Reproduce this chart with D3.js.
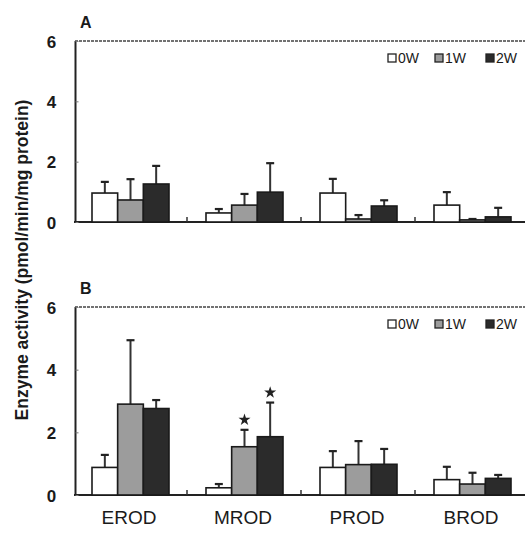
<!DOCTYPE html>
<html>
<head>
<meta charset="utf-8">
<script src="https://cdn.jsdelivr.net/npm/d3@7"></script>
<style>
  body { margin: 0; background: #fff; }
  svg { display: block; }
  text { font-family: Arial, "Liberation Sans", Helvetica, sans-serif; fill: #1a1a1a; }
</style>
</head>
<body>
<svg id="chart" width="525" height="534"></svg>
<script>
// Enzyme assays and exposure times
const categories = ["EROD", "MROD", "PROD", "BROD"];
const series = ["0W", "1W", "2W"];
const yTicks = [0, 2, 4, 6];

// Panel A: mean activity and SD, indexed [category][series]
const meanA = [
  [0.96, 0.73, 1.26],
  [0.30, 0.56, 0.99],
  [0.96, 0.10, 0.53],
  [0.56, 0.07, 0.17]
];
const sdA = [
  [0.37, 0.69, 0.60],
  [0.13, 0.37, 0.96],
  [0.47, 0.13, 0.19],
  [0.43, 0.03, 0.30]
];

// Panel B
const meanB = [
  [0.88, 2.90, 2.76],
  [0.23, 1.54, 1.86],
  [0.88, 0.97, 0.98],
  [0.49, 0.35, 0.53]
];
const sdB = [
  [0.40, 2.04, 0.27],
  [0.12, 0.54, 1.09],
  [0.52, 0.75, 0.49],
  [0.41, 0.36, 0.11]
];
// significance marks (category, series)
const starsB = [[1, 1], [1, 2]];

const fills = { "0W": "#ffffff", "1W": "#9c9c9c", "2W": "#2b2b2b" };

const svg = d3.select("#chart");

const x0 = d3.scaleBand().domain(categories).range([75, 531]).padding(0);
const x1 = d3.scaleBand().domain(series).range([17, 94]).padding(0);

function drawPanel(opts) {
  const { top, bottom, means, sds, label, stars } = opts;
  const y = d3.scaleLinear().domain([0, 6]).range([bottom, top]);
  const g = svg.append("g");

  // frame: top line, left axis, baseline
  g.append("line").attr("x1", 75).attr("x2", 525).attr("y1", y(6)).attr("y2", y(6))
    .attr("stroke", "#444").attr("stroke-width", 1.3).attr("stroke-dasharray", "3,1");
  g.append("line").attr("x1", 75.5).attr("x2", 75.5).attr("y1", y(6)).attr("y2", y(0))
    .attr("stroke", "#222").attr("stroke-width", 2);
  g.append("line").attr("x1", 74).attr("x2", 525).attr("y1", y(0)).attr("y2", y(0))
    .attr("stroke", "#222").attr("stroke-width", 2);

  // y ticks (short, inside) and labels
  const yAxis = d3.axisLeft(y).tickValues(yTicks).tickSize(-3).tickPadding(20).tickFormat(d3.format("d"));
  const ax = g.append("g").attr("transform", "translate(75.5,0)").call(yAxis);
  ax.select(".domain").remove();
  ax.selectAll(".tick line").attr("stroke", "#777");
  ax.selectAll(".tick text").attr("font-size", 17).attr("font-weight", "bold")
    .attr("fill", "#1a1a1a").attr("text-anchor", "middle").attr("dx", 0)
    .attr("x", -24).attr("dy", "0.36em");

  // small marks between category groups on the baseline
  categories.slice(1).forEach(c => {
    g.append("line").attr("x1", x0(c) - 2).attr("x2", x0(c) - 2)
      .attr("y1", y(0)).attr("y2", y(0) - 5).attr("stroke", "#333").attr("stroke-width", 1.5);
  });

  // bars
  categories.forEach((c, ci) => {
    series.forEach((s, si) => {
      const xl = x0(c) + x1(s);
      const w = x1.bandwidth();
      const v = means[ci][si];
      const top = y(v + sds[ci][si]);
      const xm = xl + w / 2;
      // error bar (upper only)
      g.append("line").attr("x1", xm).attr("x2", xm).attr("y1", y(v)).attr("y2", top)
        .attr("stroke", "#333").attr("stroke-width", 2);
      g.append("line").attr("x1", xm - 4).attr("x2", xm + 4).attr("y1", top).attr("y2", top)
        .attr("stroke", "#222").attr("stroke-width", 2.2);
      g.append("rect").attr("x", xl).attr("y", y(v)).attr("width", w).attr("height", y(0) - y(v))
        .attr("fill", fills[s]).attr("stroke", "#1a1a1a").attr("stroke-width", 1.6);
    });
  });

  // significance stars
  (stars || []).forEach(([ci, si]) => {
    const c = categories[ci], s = series[si];
    const xm = x0(c) + x1(s) + x1.bandwidth() / 2;
    const yy = y(means[ci][si] + sds[ci][si]) - 10;
    g.append("path").attr("d", d3.symbol(d3.symbolStar, 45)())
      .attr("transform", `translate(${xm},${yy})`).attr("fill", "#222");
  });

  // panel letter
  g.append("text").attr("x", 80).attr("y", top - 13).attr("font-size", 16)
    .attr("font-weight", "bold").text(label);

  // legend
  const lg = g.append("g").attr("transform", `translate(0,${top + 17})`);
  const lx = [388, 435, 486];
  series.forEach((s, i) => {
    lg.append("rect").attr("x", lx[i]).attr("y", -4).attr("width", 8).attr("height", 8)
      .attr("fill", fills[s]).attr("stroke", "#222").attr("stroke-width", 1.3);
    lg.append("text").attr("x", lx[i] + 10).attr("y", 0).attr("dy", "0.36em")
      .attr("font-size", 14).attr("fill", "#2a2a2a").text(s);
  });

  return y;
}

drawPanel({ top: 41, bottom: 222, means: meanA, sds: sdA, label: "A" });
drawPanel({ top: 307, bottom: 495, means: meanB, sds: sdB, label: "B", stars: starsB });

// category labels
svg.append("g").selectAll("text").data(categories).join("text")
  .attr("x", d => x0(d) + x0.bandwidth() / 2 - 3)
  .attr("y", 524)
  .attr("text-anchor", "middle")
  .attr("font-size", 19)
  .attr("fill", "#1a1a1a")
  .text(d => d);

// y-axis title
svg.append("text")
  .attr("transform", "translate(28,260) rotate(-90)")
  .attr("text-anchor", "middle")
  .attr("font-size", 17.5)
  .attr("font-weight", "bold")
  .attr("fill", "#1a1a1a")
  .text("Enzyme activity (pmol/min/mg protein)");
</script>
</body>
</html>
